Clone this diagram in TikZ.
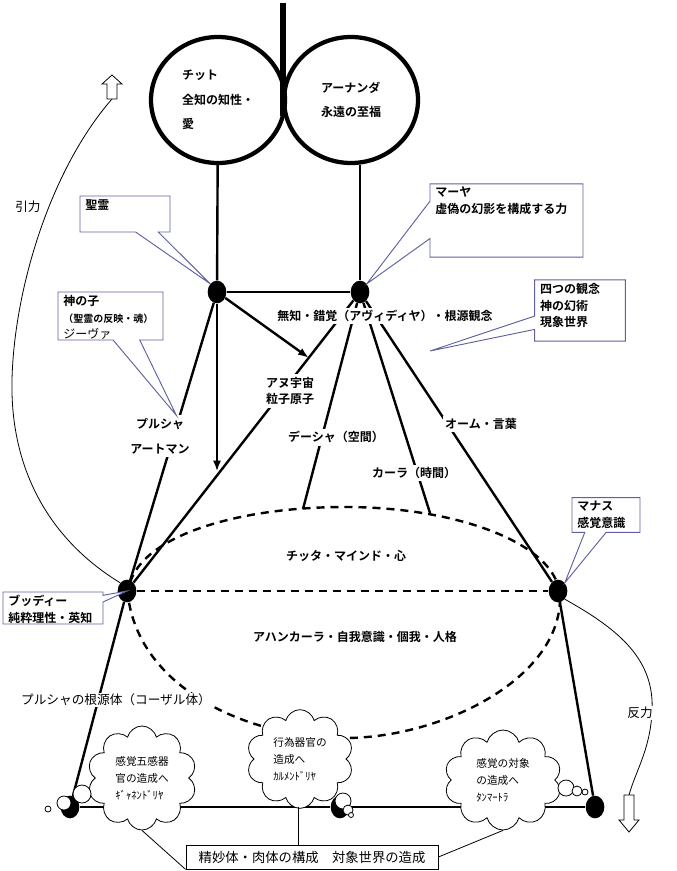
\documentclass[tikz,border=0pt]{standalone}
\usepackage{fontspec}
\setmainfont{Noto Sans CJK JP}[BoldFont={Noto Sans CJK JP Bold}]
\usetikzlibrary{shapes.geometric,shapes.symbols,shapes.callouts,arrows.meta,calc}
\definecolor{noteblue}{RGB}{96,96,160}
\newcommand\lblfont{\bfseries\fontsize{9}{12.5}\selectfont}
\newcommand\plainfont{\fontsize{9.5}{12}\selectfont}
\newcommand\cloudfont{\fontsize{8}{12.75}\selectfont}
\newcommand\cbox[3]{\parbox[c][#2][t]{#1}{#3}}
\tikzset{dot/.style={ellipse,fill,minimum width=14pt,minimum height=17pt,inner sep=0pt},
         ring/.style={ellipse,draw,line width=3.2pt,minimum width=100.5pt,minimum height=94.5pt,align=left,font=\lblfont},
         heavy/.style={line width=1.8pt},
         dashline/.style={line width=1.8pt,dash pattern=on 6pt off 4.5pt},
         thinline/.style={line width=0.6pt},
         lbl/.style={font=\lblfont,align=center,fill=white,inner sep=2pt},
         plain/.style={font=\plainfont,inner sep=1pt},
         note/.style={rectangle callout,draw=noteblue,line width=0.7pt,fill=white,font=\lblfont,inner xsep=4pt,inner ysep=2.5pt},
         bubble/.style={cloud,cloud puffs=10,cloud ignores aspect,draw,line width=0.6pt,fill=white,font=\cloudfont,align=left,inner sep=0pt},
         puff/.style={circle,draw,line width=0.6pt,fill=white,inner sep=0pt},
         hollow/.style={draw,line width=0.6pt,fill=white}
         }

\begin{document}
\begin{tikzpicture}[x=0.75pt,y=-0.75pt]
\useasboundingbox (0,0) rectangle (677,871);
\coordinate (top) at (283,3);
\coordinate (meet) at (283,116);
\node[ring] (chit) at (218,100) {チット\\[6pt]全知の知性・\\[6pt]愛};
\node[ring] (ananda) at (351,100) {アーナンダ\\[6pt]永遠の至福};
\draw[line width=4.5pt] (top) -- (meet);

\node[dot] (A) at (217,292) {};
\node[dot] (B) at (360,292) {};
\node[dot] (bud) at (127,591) {};
\node[dot] (man) at (558,591) {};
\node[dot] (bl) at (70,807) {};
\node[dot] (bm) at (340,807) {};
\node[dot] (br) at (595,807) {};
\coordinate (dtop) at (303,509);
\coordinate (ktop) at (430,513);
\coordinate (hit) at ($(B)!0.22!(bud)$);
\coordinate (hit2) at ($(B)!0.6!(bud)$);
\coordinate (join) at (298,807);
\coordinate (upar) at (112,99);
\coordinate (dnar) at (629,795);
\coordinate (phen) at (430,351);

\draw[heavy] (chit) -- (A);
\draw[heavy] (B |- ananda.south) -- (B);
\draw[heavy] (A) -- (B);
\draw[heavy] (A) -- (bud);
\draw[heavy] (B) -- (bud);
\draw[heavy] (B) -- (dtop);
\draw[heavy] (B) -- (ktop);
\draw[heavy] (B) -- (man);
\draw[heavy,-{Latex[length=8pt,width=6pt]}] (A) -- (A |- hit2);
\draw[heavy,-{Latex[length=8pt,width=6pt]}] (A) -- (hit);
\draw[heavy] (bud) -- (bl);
\draw[heavy] (man) -- (br);
\draw[heavy] (bl) -- (bm) -- (br);
\draw[dashline] (128,596) .. controls (128,540) and (230,507) .. (345,507)
  .. controls (460,507) and (560,545) .. (560,598)
  .. controls (560,680) and (440,738) .. (345,738)
  .. controls (250,738) and (140,690) .. cycle;
\draw[dashline] (bud) -- (man);

\node[lbl] (avid) at (385,316) {無知・錯覚（アヴィディヤ）・根源観念};
\node[lbl] (anu) at (290,391) {アヌ宇宙\\粒子原子};
\node[lbl] (pur) at (160,436) {プルシャ\\[6pt]アートマン};
\node[lbl] (desha) at (336,437) {デーシャ（空間）};
\node[lbl] (kala) at (414,473) {カーラ（時間）};
\node[lbl] (om) at (481,424) {オーム・言葉};
\node[lbl,fill=none] (citta) at (346,556) {チッタ・マインド・心};
\node[lbl,fill=none] (ahan) at (355,637) {アハンカーラ・自我意識・個我・人格};
\node[plain,fill=white] (causal) at (116,700) {プルシャの根源体（コーザル体）};

\draw[thinline] (bud.north west) .. controls (50,540) and (10,470) .. (12,380) .. controls (14,290) and (50,170) .. (upar);
\draw[hollow] (upar) ++(-5,0) -- ++(0,-15) -- ++(-5,0) -- ++(10,-9) -- ++(10,9) -- ++(-5,0) -- ++(0,15) -- cycle;
\node[plain,fill=white] (inryoku) at (28,207) {引力};
\draw[thinline] (man.south east) .. controls (620,630) and (655,660) .. (652,712) .. controls (650,750) and (636,770) .. (dnar);
\draw[hollow] (dnar) ++(-5,0) -- ++(0,25) -- ++(-5,0) -- ++(10,12) -- ++(10,-12) -- ++(-5,0) -- ++(0,-25) -- cycle;
\node[plain,fill=white] (hanryoku) at (640,713) {反力};

\node[note,callout pointer width=17pt,callout absolute pointer={(A.north west)}] (seirei) at (125,214) {\cbox{59.5pt}{22pt}{聖霊}};
\node[note,callout pointer width=20pt,callout absolute pointer={($(pur.north)!0.5!(pur.north east)$)}] (kami) at (110.5,316) {\cbox{70.75pt}{31pt}{神の子\\{\fontsize{7.5}{11}\selectfont （聖霊の反映・魂）}\\{\mdseries ジーヴァ}}};
\node[note,callout pointer width=28pt,callout absolute pointer={(B.north east)}] (maya) at (506.5,220.5) {\cbox{106.75pt}{50pt}{マーヤ\\虚偽の幻影を構成する力}};
\node[note,callout pointer width=10pt,callout absolute pointer={(phen)}] (yottsu) at (580,310.5) {\cbox{60pt}{41pt}{四つの観念\\神の幻術\\現象世界}};
\node[note,callout pointer width=16pt,callout absolute pointer={(man.north east)}] (manas) at (606,515) {\cbox{43pt}{21pt}{マナス\\感覚意識}};
\node[note,callout pointer width=5pt,callout absolute pointer={(bud)}] (buddhi) at (53,608) {\cbox{67pt}{19pt}{ブッディー\\純粋理性・英知}};

\node[bubble,minimum width=82pt,minimum height=78pt] (c1) at (142,778) {感覚五感器\\官の造成へ\\ｷﾞｬﾈﾝﾄﾞﾘﾔ};
\node[bubble,minimum width=80pt,minimum height=74pt] (c2) at (300,759) {行為器官の\\造成へ\\ｶﾙﾒﾝﾄﾞﾘﾔ};
\node[bubble,minimum width=88pt,minimum height=75pt] (c3) at (503,780) {感覚の対象\\の造成へ\\ﾀﾝﾏｰﾄﾗ};
\node[puff,minimum size=13.5pt] (p1) at (82,794) {};
\node[puff,minimum size=10.5pt] (p2) at (64,803) {};
\node[puff,minimum size=4.5pt] (p3) at (48,809) {};
\node[puff,minimum size=12pt] (q1) at (343,801) {};
\node[puff,minimum size=7.5pt] (q2) at (348,810) {};
\node[puff,minimum size=3.75pt] (q3) at (351,815) {};
\node[puff,minimum size=12pt] (r1) at (566,788) {};
\node[puff,minimum size=7.5pt] (r2) at (577,791) {};
\node[puff,minimum size=4.5pt] (r3) at (585,792) {};

\node[draw,thinline,font=\fontsize{10}{12}\selectfont,minimum width=189pt,minimum height=18pt,inner sep=2pt] (src) at (312,857) {精妙体・肉体の構成　対象世界の造成};
\draw[thinline] (join) -- (join |- src.north);
\draw[thinline] (c1.south) -- (src.south west);
\draw[thinline] (src.east) -- (c3.south);
\end{tikzpicture}
\end{document}
